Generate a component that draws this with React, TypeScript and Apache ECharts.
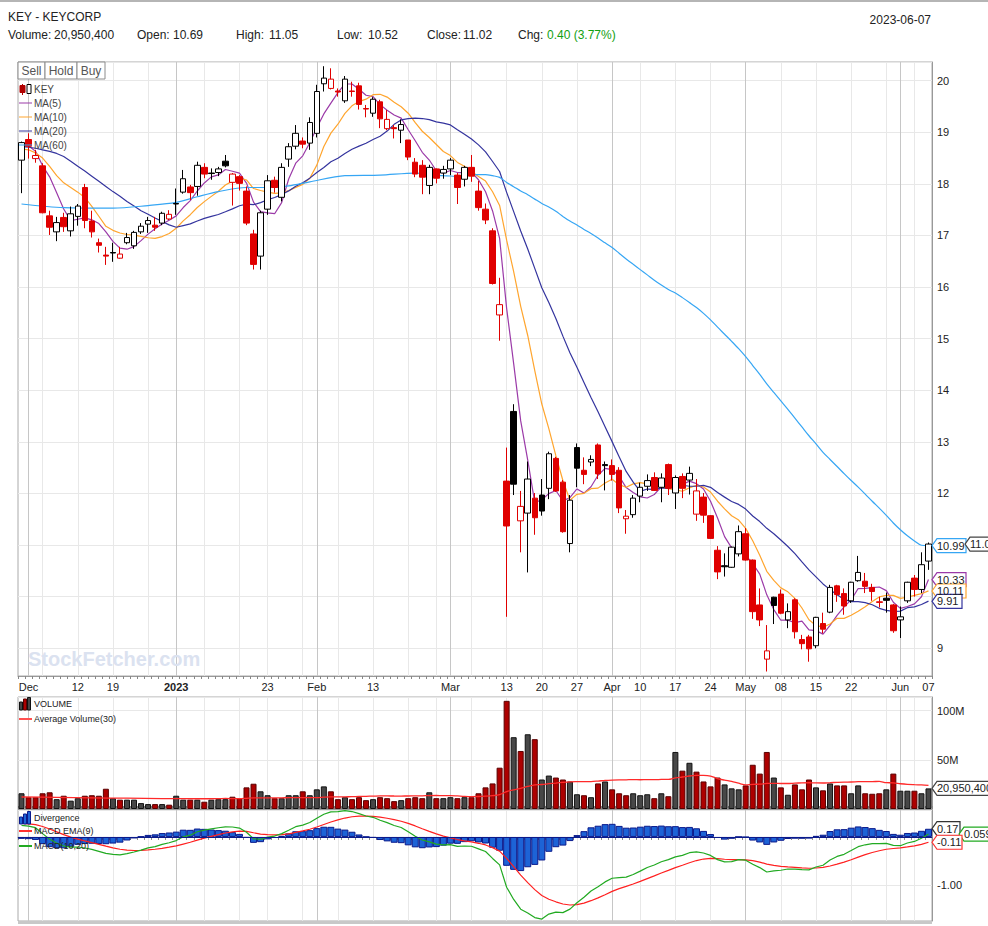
import React, { useEffect, useRef } from "react";
import * as echarts from "echarts";

// ---------- categories (trading days) ----------
const days: string[] = [
  "2022-11-30",
  "2022-12-01","2022-12-02","2022-12-05","2022-12-06","2022-12-07","2022-12-08","2022-12-09",
  "2022-12-12","2022-12-13","2022-12-14","2022-12-15","2022-12-16","2022-12-19","2022-12-20",
  "2022-12-21","2022-12-22","2022-12-23","2022-12-27","2022-12-28","2022-12-29","2022-12-30",
  "2023-01-03","2023-01-04","2023-01-05","2023-01-06","2023-01-09","2023-01-10","2023-01-11",
  "2023-01-12","2023-01-13","2023-01-17","2023-01-18","2023-01-19","2023-01-20","2023-01-23",
  "2023-01-24","2023-01-25","2023-01-26","2023-01-27","2023-01-30","2023-01-31",
  "2023-02-01","2023-02-02","2023-02-03","2023-02-06","2023-02-07","2023-02-08","2023-02-09",
  "2023-02-10","2023-02-13","2023-02-14","2023-02-15","2023-02-16","2023-02-17","2023-02-21",
  "2023-02-22","2023-02-23","2023-02-24","2023-02-27","2023-02-28",
  "2023-03-01","2023-03-02","2023-03-03","2023-03-06","2023-03-07","2023-03-08","2023-03-09",
  "2023-03-10","2023-03-13","2023-03-14","2023-03-15","2023-03-16","2023-03-17","2023-03-20",
  "2023-03-21","2023-03-22","2023-03-23","2023-03-24","2023-03-27","2023-03-28","2023-03-29",
  "2023-03-30","2023-03-31",
  "2023-04-03","2023-04-04","2023-04-05","2023-04-06","2023-04-10","2023-04-11","2023-04-12",
  "2023-04-13","2023-04-14","2023-04-17","2023-04-18","2023-04-19","2023-04-20","2023-04-21",
  "2023-04-24","2023-04-25","2023-04-26","2023-04-27","2023-04-28",
  "2023-05-01","2023-05-02","2023-05-03","2023-05-04","2023-05-05","2023-05-08","2023-05-09",
  "2023-05-10","2023-05-11","2023-05-12","2023-05-15","2023-05-16","2023-05-17","2023-05-18",
  "2023-05-19","2023-05-22","2023-05-23","2023-05-24","2023-05-25","2023-05-26","2023-05-30",
  "2023-05-31",
  "2023-06-01","2023-06-02","2023-06-05","2023-06-06","2023-06-07",
];

// ---------- tick labels ----------
const tickLabels: [string, string][] = [
  ["2022-12-01", "Dec"], ["2022-12-12", "12"], ["2022-12-19", "19"], ["2023-01-03", "2023"],
  ["2023-01-23", "23"], ["2023-02-01", "Feb"], ["2023-02-13", "13"], ["2023-03-01", "Mar"],
  ["2023-03-13", "13"], ["2023-03-20", "20"], ["2023-03-27", "27"], ["2023-04-03", "Apr"],
  ["2023-04-10", "10"], ["2023-04-17", "17"], ["2023-04-24", "24"], ["2023-05-01", "May"],
  ["2023-05-08", "08"], ["2023-05-15", "15"], ["2023-05-22", "22"], ["2023-06-01", "Jun"],
  ["2023-06-07", "07"],
];
const monthLines: string[] = ["2022-12-01", "2023-01-03", "2023-02-01", "2023-03-01", "2023-04-03", "2023-05-01", "2023-06-01"];
const weekLines: string[] = [
  "2022-12-05", "2022-12-12", "2022-12-19", "2022-12-27", "2023-01-09", "2023-01-17", "2023-01-23",
  "2023-01-30", "2023-02-06", "2023-02-13", "2023-02-21", "2023-02-27", "2023-03-06", "2023-03-13",
  "2023-03-20", "2023-03-27", "2023-04-10", "2023-04-17", "2023-04-24", "2023-05-08", "2023-05-15",
  "2023-05-22", "2023-05-30", "2023-06-05",
];

// ---------- prices ----------
const opens: number[] = [
  18.46, 18.86, 18.49, 18.35, 17.38, 17.07, 17.35, 17.09, 17.37, 17.93,
  17.28, 16.86, 16.62, 16.67, 16.56, 16.86, 16.80, 17.07, 17.22, 17.20,
  17.24, 17.32, 17.62, 17.84, 17.94, 17.95, 18.32, 18.21, 18.22, 18.44,
  18.03, 18.14, 17.86, 17.03, 16.60, 17.51, 18.07, 17.74, 18.48, 18.73,
  18.83, 18.79, 18.98, 19.94, 19.85, 19.80, 19.61, 19.80, 19.90, 19.46,
  19.37, 19.59, 19.07, 19.09, 19.04, 18.85, 18.42, 18.36, 17.97, 18.29,
  18.21, 18.29, 18.17, 18.09, 18.32, 17.86, 17.51, 17.09, 15.46, 12.24,
  13.59, 11.47, 11.62, 11.91, 11.97, 12.10, 12.68, 12.22, 11.03, 12.89,
  12.45, 12.61, 12.94, 12.56, 12.54, 12.45, 11.51, 11.59, 11.95, 12.14,
  12.31, 12.12, 12.56, 12.01, 12.33, 12.26, 11.60, 11.93, 11.57, 10.90,
  10.60, 10.57, 10.83, 11.22, 10.71, 9.84, 8.79, 9.99, 10.05, 9.55,
  9.94, 9.17, 9.22, 9.05, 9.48, 9.70, 10.21, 10.06, 9.92, 10.31,
  10.30, 10.18, 9.90, 9.97, 9.84, 9.55, 9.92, 10.36, 10.14, 10.69,
];
const closes: number[] = [
  18.80, 18.73, 18.55, 17.44, 17.16, 17.25, 17.17, 17.42, 17.57, 17.29,
  17.07, 16.81, 16.60, 16.66, 16.64, 16.96, 17.06, 17.18, 17.29, 17.16,
  17.43, 17.41, 17.61, 18.10, 17.83, 18.36, 18.19, 18.20, 18.29, 18.35,
  18.19, 18.01, 17.24, 16.44, 17.44, 18.06, 17.93, 18.32, 18.72, 18.98,
  18.77, 19.19, 19.79, 20.05, 20.03, 19.78, 20.03, 19.79, 19.54, 19.45,
  19.64, 19.26, 19.25, 19.07, 19.15, 18.52, 18.19, 18.13, 18.32, 18.11,
  18.28, 18.46, 17.93, 18.32, 18.15, 17.54, 17.30, 16.07, 15.66, 11.37,
  12.18, 11.75, 12.28, 11.53, 11.66, 12.77, 12.05, 11.26, 11.87, 12.49,
  12.37, 12.66, 12.38, 12.54, 12.37, 11.72, 11.56, 11.91, 12.12, 12.25,
  12.06, 12.30, 12.10, 12.31, 12.10, 12.39, 12.05, 11.58, 11.13, 10.48,
  10.58, 10.96, 11.26, 10.71, 9.71, 9.55, 8.95, 9.83, 9.68, 9.71,
  9.32, 9.09, 8.99, 9.60, 9.37, 10.18, 10.04, 9.82, 10.28, 10.47,
  10.20, 10.10, 9.89, 9.93, 9.34, 9.61, 10.28, 10.14, 10.62, 11.02,
];
const lows: number[] = [
  17.82, 18.49, 18.41, 17.43, 17.01, 16.89, 17.07, 16.98, 17.19, 17.14,
  16.96, 16.67, 16.43, 16.49, 16.55, 16.83, 16.74, 17.03, 17.05, 17.09,
  17.20, 17.30, 17.40, 17.81, 17.69, 17.77, 18.11, 18.08, 18.15, 18.32,
  17.58, 17.87, 17.20, 16.34, 16.34, 17.40, 17.83, 17.66, 18.33, 18.67,
  18.69, 18.66, 18.90, 19.79, 19.83, 19.69, 19.57, 19.69, 19.44, 19.29,
  19.30, 19.08, 19.04, 18.88, 18.79, 18.46, 18.13, 17.80, 17.80, 18.01,
  18.10, 18.17, 17.61, 17.95, 18.04, 17.48, 17.22, 16.05, 14.96, 9.61,
  11.97, 10.86, 10.47, 11.20, 11.57, 11.89, 12.03, 11.24, 10.86, 12.12,
  12.18, 12.53, 12.28, 12.06, 12.25, 11.62, 11.22, 11.53, 11.83, 12.05,
  12.05, 11.83, 11.97, 11.70, 11.91, 11.98, 11.47, 11.43, 11.12, 10.34,
  10.39, 10.56, 10.78, 10.70, 9.57, 9.43, 8.55, 9.47, 9.66, 9.39,
  9.19, 8.98, 8.74, 9.00, 9.29, 9.68, 9.90, 9.65, 9.88, 10.29,
  10.07, 9.92, 9.79, 9.69, 9.30, 9.20, 9.88, 10.00, 10.07, 10.52,
];
const highs: number[] = [
  18.82, 18.98, 18.66, 18.40, 17.48, 17.36, 17.44, 17.56, 17.61, 18.00,
  17.48, 16.94, 16.78, 16.86, 16.78, 17.05, 17.09, 17.24, 17.36, 17.36,
  17.46, 17.49, 17.91, 18.27, 17.98, 18.43, 18.40, 18.30, 18.33, 18.56,
  18.21, 18.17, 17.95, 17.11, 17.48, 18.17, 18.14, 18.40, 18.79, 19.14,
  18.90, 19.29, 19.92, 20.28, 20.24, 19.85, 20.09, 19.98, 19.96, 19.53,
  19.68, 19.63, 19.43, 19.14, 19.25, 18.85, 18.50, 18.46, 18.37, 18.30,
  18.35, 18.50, 18.21, 18.35, 18.56, 18.06, 17.62, 17.14, 16.18, 12.89,
  13.73, 12.05, 12.62, 12.01, 12.28, 12.81, 12.71, 12.26, 11.97, 12.97,
  12.70, 12.74, 12.97, 12.62, 12.66, 12.51, 11.68, 11.97, 12.21, 12.37,
  12.41, 12.39, 12.58, 12.35, 12.39, 12.52, 12.28, 12.01, 11.58, 10.98,
  10.84, 10.97, 11.38, 11.33, 10.72, 10.16, 9.45, 10.00, 10.14, 9.87,
  9.97, 9.26, 9.26, 9.61, 9.69, 10.23, 10.23, 10.16, 10.29, 10.79,
  10.46, 10.25, 10.00, 10.08, 9.86, 9.81, 10.29, 10.42, 10.86, 11.05,
];

// ---------- volume (millions of shares) ----------
const volumesM: number[] = [
  16, 12, 12, 16, 17, 10, 13.5, 8.5, 11, 13.5,
  14, 13.5, 20.6, 11, 9.5, 9.5, 9.5, 6, 5, 5,
  5, 4.4, 13.5, 9.5, 9.5, 9.5, 7.4, 9.5, 10, 10,
  12.5, 11, 22, 25.7, 18, 14, 11, 11, 14, 14,
  18, 14, 20, 23, 18, 10, 12, 10, 12, 9,
  10, 12, 11, 8, 9, 11, 12, 11, 17, 11,
  11, 12, 11, 12, 12, 16, 22, 26, 42, 110,
  73, 59, 76, 71, 30, 34, 32, 30, 28, 15,
  14, 12, 26, 28, 20, 16, 14, 16, 14, 15,
  11, 16, 13, 58, 39, 47, 38, 28, 23, 32,
  25, 21, 20, 24, 45, 36, 58, 32, 22, 14.5,
  25, 20, 30, 22, 19, 26, 24, 24, 16, 24,
  16, 15.5, 16, 20, 36, 18.6, 18.6, 18.6, 16, 20.9504,
];

// ---------- indicator values read where the window has no history ----------
const ma5Head: number[] = [18.72, 18.74, 18.63, 18.35];
const ma10Head: number[] = [18.68, 18.66, 18.60, 18.50, 18.34, 18.16, 18.02, 17.93, 17.84];
const ma20Head: number[] = [18.72, 18.71, 18.69, 18.66, 18.63, 18.59, 18.53, 18.44, 18.34, 18.25,
  18.15, 18.05, 17.95, 17.85, 17.76, 17.66, 17.57, 17.48, 17.41];
const ma60Head: [number, number][] = [[0, 17.61], [6, 17.54], [13, 17.53], [18, 17.58], [22, 17.64],
  [25, 17.75], [28, 17.85], [32, 17.93], [35, 17.93], [38, 17.96], [41, 18.04], [46, 18.16],
  [51, 18.17], [56, 18.21], [58, 18.19]];
const avgVolHead: [number, number][] = [[0, 12.2], [5, 11.8], [10, 11.3], [15, 11.0], [20, 10.6], [25, 10.4], [28, 10.5]];
const ema10Start = 18.66;
const ema20Start = 18.42;
const signalStart = 0.28;

// ---------- last-value tags ----------
const priceTags: [string, number, string][] = [
  ["10.99", 10.99, "#36a6f4"], ["10.33", 10.33, "#9b3aa8"], ["10.11", 10.11, "#ffa52e"], ["9.91", 9.91, "#34349e"],
];
const closeTag = "11.02";
const volumeTag = "20,950,400";
const macdTags: [string, number, string][] = [["0.17", 0.17, "#333"], ["-0.11", -0.11, "#ff3030"]];
const macdLineTag: [string, number, string] = ["0.059", 0.059, "#22aa22"];

const FONT = '"Liberation Sans", Arial, sans-serif';
const RED = "#e00000";

function smaSeries(values: number[], n: number, head: [number, number][]): [number, number][] {
  const out: [number, number][] = head.slice();
  for (let i = n - 1; i < values.length; i++) {
    let s = 0;
    for (let j = i - n + 1; j <= i; j++) s += values[j];
    out.push([i, +(s / n).toFixed(4)]);
  }
  return out;
}

export default function App() {
  const ref = useRef<HTMLDivElement>(null);

  useEffect(() => {
    const chart = echarts.init(ref.current!, null, { renderer: "svg" });

    const labelMap = new Map(tickLabels);
    const labelIdx = new Set(tickLabels.map(([d]) => days.indexOf(d)));
    const monthIdx = new Set(monthLines.map((d) => days.indexOf(d)));
    const weekIdx = new Set(weekLines.map((d) => days.indexOf(d)));

    const candleData = opens.map((o, i) => {
      const c = closes[i];
      const prev = i > 0 ? closes[i - 1] : o;
      const edge = c >= prev ? "#000" : RED;
      const fill = c > o ? "#fff" : edge;
      return {
        value: [o, c, lows[i], highs[i]],
        itemStyle: { color: fill, color0: fill, borderColor: edge, borderColor0: edge, borderColorDoji: edge, borderWidth: 1 },
      };
    });

    const ma5 = smaSeries(closes, 5, ma5Head.map((v, i) => [i, v] as [number, number]));
    const ma10 = smaSeries(closes, 10, ma10Head.map((v, i) => [i, v] as [number, number]));
    const ma20 = smaSeries(closes, 20, ma20Head.map((v, i) => [i, v] as [number, number]));
    const ma60 = smaSeries(closes, 60, ma60Head);

    const volData = volumesM.map((v, i) => {
      const up = i === 0 || closes[i] >= closes[i - 1];
      return {
        value: v * 1e6,
        itemStyle: { color: up ? "#474747" : "#ad0000", borderColor: up ? "#111" : "#5a0000", borderWidth: 1 },
      };
    });
    const avgVol = smaSeries(volumesM, 30, avgVolHead).map(([i, v]) => [i, v * 1e6]);

    const k10 = 2 / 11, k20 = 2 / 21, k9 = 2 / 10;
    let e10 = ema10Start, e20 = ema20Start, sig = signalStart;
    const macd: number[] = [], signal: number[] = [], hist: number[] = [];
    closes.forEach((c, i) => {
      if (i > 0) { e10 += k10 * (c - e10); e20 += k20 * (c - e20); }
      const m = e10 - e20;
      if (i > 0) sig += k9 * (m - sig);
      macd.push(+m.toFixed(4)); signal.push(+sig.toFixed(4)); hist.push(+(m - sig).toFixed(4));
    });

    const axisFont = { fontFamily: FONT, fontSize: 11, color: "#222" };
    const weekSplit = { show: true, interval: (i: number) => weekIdx.has(i), alignWithLabel: true, lineStyle: { color: "#e8e8e8", width: 1 } };
    const monthSplit = { show: true, interval: (i: number) => monthIdx.has(i), alignWithLabel: true, lineStyle: { color: "#c6c6c6", width: 1 } };

    const mkX = (grid: number, main: boolean, position: string, labels: boolean) => ({
      type: "category",
      gridIndex: grid,
      data: days,
      position,
      boundaryGap: true,
      axisLine: { show: main, lineStyle: { color: "#999" } },
      axisTick: { show: main, interval: 0, length: 3, lineStyle: { color: "#888" } },
      axisLabel: labels
        ? {
            show: true, interval: (i: number) => labelIdx.has(i), ...axisFont, margin: 5,
            formatter: (v: string) => { const t = labelMap.get(v) || ""; return t === "2023" ? "{b|2023}" : t; },
            rich: { b: { fontWeight: "bold", fontFamily: FONT, fontSize: 11, color: "#222" } },
          }
        : { show: false },
      splitLine: main ? weekSplit : monthSplit,
    });

    const G0 = { left: 18, right: 56, top: 62, height: 614 };
    const G1 = { left: 18, right: 56, top: 697, height: 112 };
    const G2 = { left: 18, right: 56, top: 810, height: 111 };

    const option: any = {
      animation: false,
      backgroundColor: "#fff",
      grid: [
        { ...G0, show: true, borderColor: "#aaa", borderWidth: 1 },
        { ...G1, show: true, borderColor: "#aaa", borderWidth: 1 },
        { ...G2, show: true, borderColor: "#aaa", borderWidth: 1 },
      ],
      xAxis: [
        mkX(0, true, "bottom", true), mkX(0, false, "bottom", false),
        mkX(1, true, "top", false), mkX(1, false, "top", false),
        mkX(2, true, "bottom", false), mkX(2, false, "bottom", false),
      ],
      yAxis: [
        {
          type: "value", gridIndex: 0, position: "right", min: 8.463, max: 20.362, splitNumber: 12, scale: true,
          axisLine: { show: true, lineStyle: { color: "#999" } }, axisTick: { show: false },
          axisLabel: { ...axisFont, margin: 5, showMinLabel: false, showMaxLabel: false, formatter: (v: number) => String(Math.round(v)) },
          splitLine: { lineStyle: { color: "#e8e8e8" } },
        },
        {
          type: "value", gridIndex: 1, position: "right", min: 0, max: 113.9e6, interval: 50e6,
          axisLine: { show: true, lineStyle: { color: "#999" } }, axisTick: { show: false },
          axisLabel: { ...axisFont, margin: 5, showMinLabel: false, showMaxLabel: false, formatter: (v: number) => (v / 1e6) + "M" },
          splitLine: { lineStyle: { color: "#e8e8e8" } },
        },
        {
          type: "value", gridIndex: 2, position: "right", min: -1.735, max: 0.556, splitNumber: 2,
          axisLine: { show: true, lineStyle: { color: "#999" } }, axisTick: { show: false },
          axisLabel: { ...axisFont, margin: 5, showMinLabel: false, showMaxLabel: false, formatter: (v: number) => (Math.abs(v + 1) < 1e-6 ? "-1.00" : "") },
          splitLine: { lineStyle: { color: "#e8e8e8" } },
        },
      ],
      series: [
        { type: "candlestick", name: "KEY", xAxisIndex: 0, yAxisIndex: 0, data: candleData, barWidth: 6, z: 5 },
        { type: "line", name: "MA(5)", xAxisIndex: 0, yAxisIndex: 0, data: ma5, showSymbol: false, lineStyle: { color: "#9b3aa8", width: 1.2 }, z: 3 },
        { type: "line", name: "MA(10)", xAxisIndex: 0, yAxisIndex: 0, data: ma10, showSymbol: false, lineStyle: { color: "#ffa52e", width: 1.2 }, z: 3 },
        { type: "line", name: "MA(20)", xAxisIndex: 0, yAxisIndex: 0, data: ma20, showSymbol: false, lineStyle: { color: "#34349e", width: 1.2 }, z: 3 },
        { type: "line", name: "MA(60)", xAxisIndex: 0, yAxisIndex: 0, data: ma60, showSymbol: false, smooth: 0.3, lineStyle: { color: "#36a6f4", width: 1.2 }, z: 3 },
        { type: "bar", name: "VOLUME", xAxisIndex: 2, yAxisIndex: 1, data: volData, barWidth: 6, z: 2 },
        { type: "line", name: "Average Volume(30)", xAxisIndex: 2, yAxisIndex: 1, data: avgVol, showSymbol: false, smooth: 0.3, lineStyle: { color: "#ff2a2a", width: 1.3 }, z: 4 },
        {
          type: "bar", name: "Divergence", xAxisIndex: 4, yAxisIndex: 2, data: hist, barWidth: 7, z: 2,
          itemStyle: { color: "#1d63d6", borderColor: "#0a1a8c", borderWidth: 1 },
          markLine: { silent: true, symbol: "none", label: { show: false }, lineStyle: { color: "#0a1a8c", width: 1, type: "solid" }, data: [{ yAxis: 0 }] },
        },
        { type: "line", name: "MACD EMA(9)", xAxisIndex: 4, yAxisIndex: 2, data: signal, showSymbol: false, lineStyle: { color: "#ff2020", width: 1.2 }, z: 4 },
        { type: "line", name: "MACD(10,20)", xAxisIndex: 4, yAxisIndex: 2, data: macd, showSymbol: false, lineStyle: { color: "#22aa22", width: 1.2 }, z: 4 },
      ],
    };
    chart.setOption(option);

    const txt = (x: number, y: number, text: string, opts: any = {}) => ({
      type: "text", silent: true, z: 100,
      style: { x, y, text, fill: opts.fill || "#222", font: `${opts.weight || "normal"} ${opts.size || 12}px ${FONT}`, align: opts.align || "left", verticalAlign: "middle" },
    });
    const hline = (x1: number, x2: number, y: number, color: string, w = 1) => ({
      type: "line", silent: true, z: 100, shape: { x1, y1: y, x2, y2: y }, style: { stroke: color, lineWidth: w },
    });
    const tag = (x: number, y: number, text: string, color: string, w: number) => ({
      type: "group", silent: true, z: 110,
      children: [
        { type: "polygon", z: 110, shape: { points: [[x, y], [x + 5, y - 7], [x + w, y - 7], [x + w, y + 7], [x + 5, y + 7]] }, style: { fill: "#fff", stroke: color, lineWidth: 1.2 } },
        { type: "text", z: 111, style: { x: x + 5, y, text, fill: "#222", font: `11px ${FONT}`, align: "left", verticalAlign: "middle" } },
      ],
    });
    const rectBox = (x: number, y: number, w: number, h: number, stroke: string, fill = "#fff") => ({
      type: "rect", silent: true, z: 100, shape: { x, y, width: w, height: h }, style: { fill, stroke, lineWidth: 1 },
    });

    const py = (v: number) => chart.convertToPixel({ yAxisIndex: 0 }, v) as number;
    const my = (v: number) => chart.convertToPixel({ yAxisIndex: 2 }, v) as number;
    const vy = (v: number) => chart.convertToPixel({ yAxisIndex: 1 }, v) as number;
    const AX = 932;

    const graphics: any[] = [
      hline(0, 988, 1, "#b5b5b5", 2),
      txt(8, 17, "KEY - KEYCORP"),
      txt(8, 35, "Volume:"), txt(54, 35, "20,950,400"),
      txt(137, 35, "Open:"), txt(173, 35, "10.69"),
      txt(236, 35, "High:"), txt(269, 35, "11.05"),
      txt(337, 35, "Low:"), txt(368, 35, "10.52"),
      txt(427, 35, "Close:"), txt(463, 35, "11.02"),
      txt(518, 35, "Chg:"), txt(547, 35, "0.40 (3.77%)", { fill: "#11a011" }),
      txt(931, 20, "2023-06-07", { align: "right" }),
      // watermark
      { type: "text", silent: true, z: 1, style: { x: 28, y: 659, text: "StockFetcher.com", fill: "#dbe2f0", font: `bold 20px ${FONT}`, verticalAlign: "middle" } },
      // Sell / Hold / Buy
      rectBox(18, 62, 27, 17, "#8c8c8c"), rectBox(45, 62, 32, 17, "#8c8c8c"), rectBox(77, 62, 28, 17, "#8c8c8c"),
      txt(31.5, 71, "Sell", { fill: "#555", align: "center" }),
      txt(61, 71, "Hold", { fill: "#555", align: "center" }),
      txt(91, 71, "Buy", { fill: "#555", align: "center" }),
      // main legend
      { type: "line", silent: true, z: 100, shape: { x1: 22.5, y1: 84, x2: 22.5, y2: 95 }, style: { stroke: "#b00000", lineWidth: 1 } },
      rectBox(20, 85.5, 5, 7, "#b00000", "#b00000"),
      rectBox(27, 84.5, 4, 9, "#000", "#fff"),
      txt(34, 89, "KEY", { size: 10, fill: "#444" }),
      hline(19, 32, 103, "#9b3aa8"), txt(34, 103, "MA(5)", { size: 10, fill: "#444" }),
      hline(19, 32, 117, "#ffa52e"), txt(34, 117, "MA(10)", { size: 10, fill: "#444" }),
      hline(19, 32, 131, "#34349e"), txt(34, 131, "MA(20)", { size: 10, fill: "#444" }),
      hline(19, 32, 145, "#36a6f4"), txt(34, 145, "MA(60)", { size: 10, fill: "#444" }),
      // volume legend
      rectBox(19.5, 702, 3, 8, "#111", "#444"), rectBox(23.5, 699, 3, 11, "#5a0000", "#ad0000"), rectBox(27.5, 697.5, 3, 12.5, "#111", "#444"),
      txt(34, 704, "VOLUME", { size: 9, fill: "#222" }),
      hline(19, 32, 719, "#ff5050", 2), txt(34, 719, "Average Volume(30)", { size: 9, fill: "#222" }),
      // macd legend
      rectBox(19.5, 817, 3, 7, "#0a1a8c", "#1d63d6"), rectBox(23.5, 814, 3, 10, "#0a1a8c", "#1d63d6"), rectBox(27.5, 811.5, 3, 12.5, "#0a1a8c", "#1d63d6"),
      txt(34, 818, "Divergence", { size: 9, fill: "#222" }),
      hline(19, 32, 831, "#ff3030", 2), txt(34, 831, "MACD EMA(9)", { size: 9, fill: "#222" }),
      hline(19, 32, 846, "#22aa22", 2), txt(34, 846, "MACD(10,20)", { size: 9, fill: "#222" }),
      // bottom scroll band
      { type: "rect", silent: true, z: 100, shape: { x: 18, y: 921, width: 914, height: 3 }, style: { fill: "#c8c8c8" } },
    ];

    // price tags
    graphics.push(tag(AX, py(priceTags[0][1]), priceTags[0][0], priceTags[0][2], 34));
    graphics.push(tag(AX + 33, py(closes[closes.length - 1]), closeTag, "#444", 36));
    for (let k = 1; k < priceTags.length; k++) {
      const [t, v, c] = priceTags[k];
      graphics.push(tag(AX, py(v), t, c, t.length > 4 ? 34 : 30));
    }
    graphics.push(tag(AX, vy(volumesM[volumesM.length - 1] * 1e6), volumeTag, "#444", 60));
    graphics.push(tag(AX, my(macdTags[0][1]), macdTags[0][0], macdTags[0][2], 28));
    graphics.push(tag(AX + 27, my(macdLineTag[1]), macdLineTag[0], macdLineTag[2], 34));
    graphics.push(tag(AX, my(macdTags[1][1]), macdTags[1][0], macdTags[1][2], 30));

    chart.setOption({ graphic: graphics });

    return () => chart.dispose();
  }, []);

  return <div ref={ref} style={{ position: "fixed", left: 0, top: 0, width: 988, height: 926, background: "#fff" }} />;
}
